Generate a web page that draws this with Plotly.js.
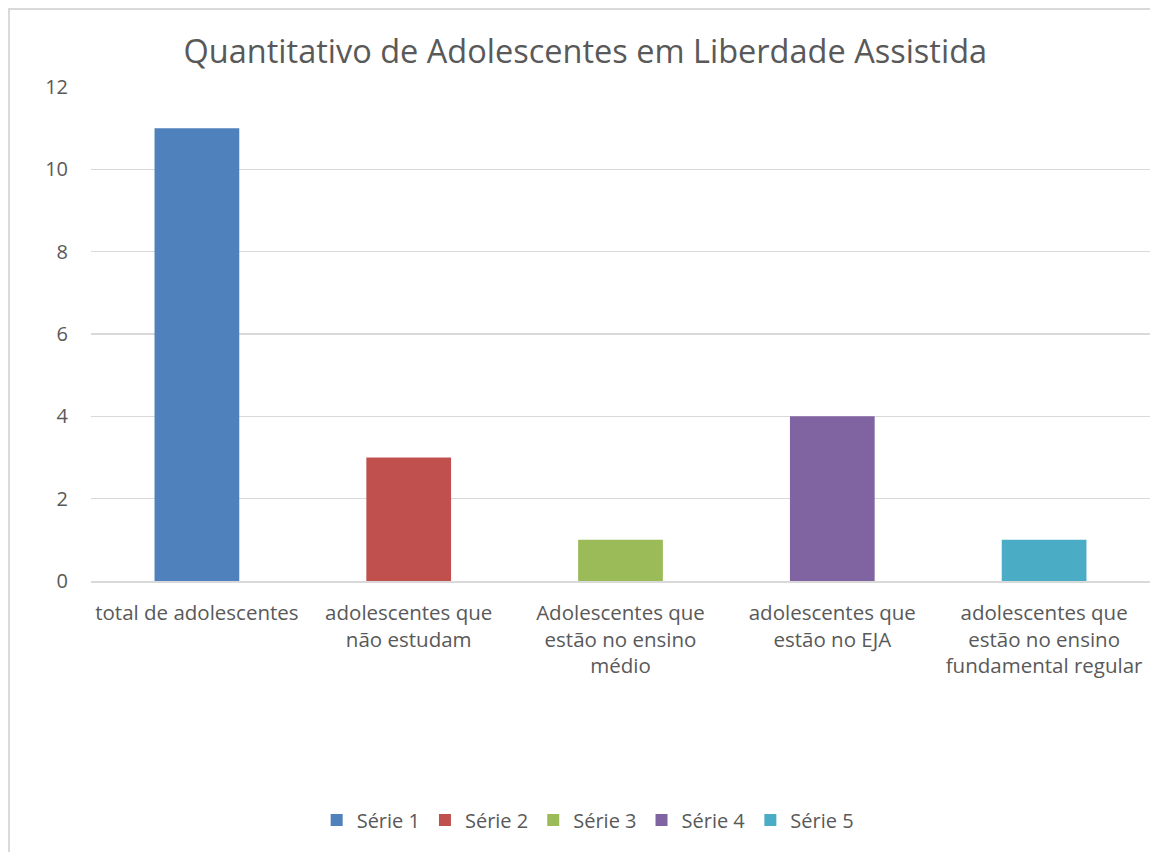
<!DOCTYPE html>
<html>
<head>
<meta charset="utf-8">
<script src="https://cdn.plot.ly/plotly-3.0.1.min.js"></script>
<style>html,body{margin:0;padding:0;background:#fff;}#chart{width:1150px;height:852px;}</style>
</head>
<body>
<div id="chart"></div>
<script>
const categories = [
  "total de adolescentes",
  "adolescentes que<br>não estudam",
  "Adolescentes que<br>estão no ensino<br>médio",
  "adolescentes que<br>estão no EJA",
  "adolescentes que<br>estão no ensino<br>fundamental regular"
];
const seriesNames = ["Série 1", "Série 2", "Série 3", "Série 4", "Série 5"];
const values = [11, 3, 1, 4, 1];
const colors = ["#4F81BD", "#C0504D", "#9BBB59", "#8064A2", "#4BACC6"];
const yTicks = [0, 2, 4, 6, 8, 10, 12];

const FONT = "Open Sans, Liberation Sans, sans-serif";
const TXT = "#595959";

const traces = seriesNames.map((name, i) => ({
  type: "bar",
  name: name,
  x: [categories[i]],
  y: [values[i]],
  marker: { color: colors[i] },
  hoverinfo: "x+y+name"
}));

const layout = {
  width: 1150,
  height: 852,
  margin: { l: 91, r: 0, t: 87, b: 271 },
  paper_bgcolor: "#ffffff",
  plot_bgcolor: "#ffffff",
  barmode: "overlay",
  bargap: 0.6,
  font: { family: FONT, color: TXT, size: 20 },
  title: {
    text: "Quantitativo de Adolescentes em Liberdade Assistida",
    font: { family: FONT, size: 32.5, color: TXT },
    x: 0.509, xref: "container", xanchor: "center",
    y: 0.939, yref: "container", yanchor: "middle"
  },
  xaxis: {
    categoryorder: "array",
    categoryarray: categories,
    showgrid: false,
    showline: true,
    linecolor: "#d9d9d9",
    linewidth: 1.5,
    ticks: "",
    tickfont: { family: FONT, size: 20.5, color: TXT },
    ticklabelstandoff: 13,
    fixedrange: true
  },
  yaxis: {
    range: [0, 12],
    tickvals: yTicks,
    showgrid: true,
    gridcolor: "#d9d9d9",
    gridwidth: 1.5,
    zeroline: false,
    showline: false,
    ticks: "",
    tickfont: { family: FONT, size: 20, color: TXT },
    ticklabelstandoff: 22,
    fixedrange: true
  },
  legend: {
    orientation: "h",
    x: 0.469, xanchor: "center",
    y: -0.484, yanchor: "middle",
    itemwidth: 30,
    tracegroupgap: 0,
    font: { family: FONT, size: 20, color: TXT },
    itemclick: false
  },
  shapes: [{
    type: "rect",
    xref: "paper", yref: "paper",
    x0: -0.0774, x1: 1.05,
    y0: -0.7, y1: 1.158,
    line: { color: "#d9d9d9", width: 2 },
    fillcolor: "rgba(0,0,0,0)",
    layer: "below"
  }],
  showlegend: true
};

Plotly.newPlot("chart", traces, layout, { displayModeBar: false, staticPlot: true });
</script>
</body>
</html>
